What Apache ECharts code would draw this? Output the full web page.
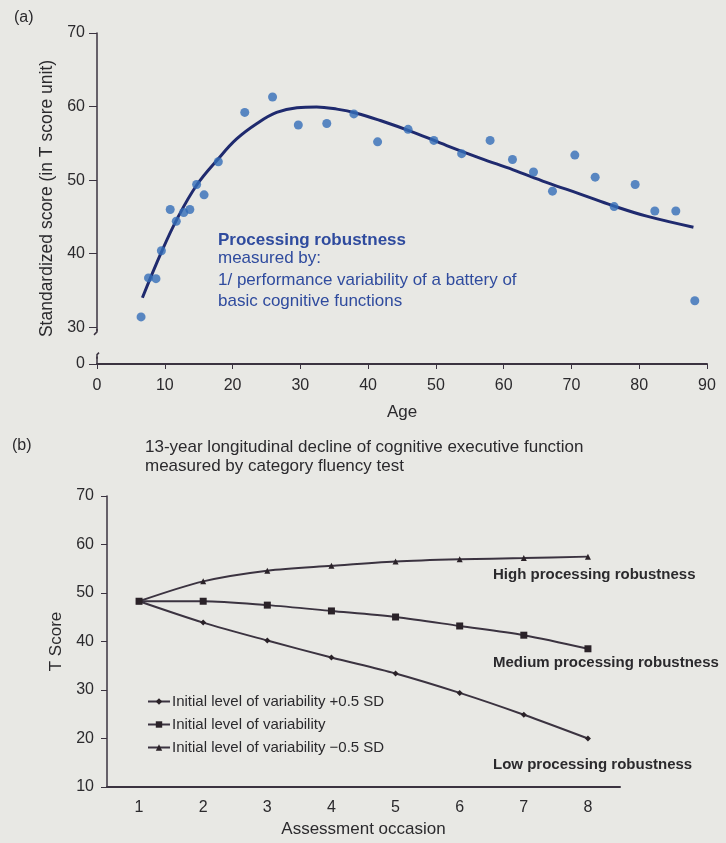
<!DOCTYPE html>
<html><head><meta charset="utf-8">
<script src="https://cdn.jsdelivr.net/npm/echarts@6/dist/echarts.min.js"></script>
<style>html,body{margin:0;padding:0;background:#e8e8e4;}#c{width:726px;height:843px;}</style>
</head><body><div id="c"></div>
<script>
// Panel (a): age vs standardized score
const ageScatter = [6.5,7.6,8.7,9.5,10.8,11.7,12.8,13.7,14.7,15.8,17.9,21.8,25.9,29.7,33.9,37.9,41.4,45.9,49.7,53.8,58.0,61.3,64.4,67.2,70.5,73.5,76.3,79.4,82.3,85.4,88.2];
const scoreScatter = [31.4,36.7,36.6,40.4,46.0,44.4,45.6,46.0,49.4,48.0,52.5,59.2,61.3,57.5,57.7,59.0,55.2,56.9,55.4,53.6,55.4,52.8,51.1,48.5,53.4,50.4,46.4,49.4,45.8,45.8,33.6];
const ageCurve = [6.7,9.5,11.8,14.7,17.9,20.6,23.6,26.5,29.5,32.4,35.4,38.3,41.8,46.7,51.6,56.5,61.4,66.3,71.3,76.2,81.1,88.0];
const scoreCurve = [34.0,40.2,44.7,49.3,52.9,55.6,57.7,59.2,59.85,59.95,59.65,59.1,58.1,56.5,54.7,53.0,51.4,49.7,48.1,46.5,45.1,43.6];
const aYTicks = [25,30,40,50,60,70]; // 25 stands for the broken-axis "0"
// Panel (b): T scores by assessment occasion
const occasions = ['1','2','3','4','5','6','7','8'];
const lowRobust = [48.3,43.9,40.2,36.7,33.4,29.4,24.9,20.0];
const medRobust = [48.3,48.3,47.5,46.3,45.05,43.2,41.3,38.5];
const highRobust = [48.3,52.4,54.6,55.6,56.5,56.95,57.2,57.5];
const legendNames = ['Initial level of variability +0.5 SD','Initial level of variability','Initial level of variability \u22120.5 SD'];

const FONT = '"Liberation Sans",Arial,sans-serif';
const TXT = '#2b2a2d';
const AX = '#3b3340';
const BLUE_TXT = '#2f4b9e';
const BG = '#e8e8e4';

const chart = echarts.init(document.getElementById('c'));
const option = {
  backgroundColor: BG,
  animation: false,
  textStyle: {fontFamily: FONT},
  grid: [
    {left: 97, right: 19, top: 33, bottom: 479},
    {left: 107, right: 106, top: 496, bottom: 56}
  ],
  xAxis: [
    {gridIndex: 0, type: 'value', min: 0, max: 90, interval: 10,
     name: 'Age', nameLocation: 'middle', nameGap: 40,
     nameTextStyle: {fontFamily: FONT, fontSize: 17, color: TXT},
     axisLine: {lineStyle: {color: AX, width: 2}},
     axisTick: {length: 5, lineStyle: {color: AX}},
     axisLabel: {fontFamily: FONT, fontSize: 16, color: TXT, margin: 14},
     splitLine: {show: false}},
    {gridIndex: 1, type: 'category', data: occasions, boundaryGap: true,
     name: 'Assessment occasion', nameLocation: 'middle', nameGap: 34,
     nameTextStyle: {fontFamily: FONT, fontSize: 17, color: TXT},
     axisLine: {lineStyle: {color: AX, width: 2}},
     axisTick: {length: 5, lineStyle: {color: AX, width: 2}},
     axisLabel: {fontFamily: FONT, fontSize: 16, color: TXT, margin: 13},
     splitLine: {show: false}}
  ],
  yAxis: [
    {gridIndex: 0, type: 'value', min: 25, max: 70, interval: 5,
     name: 'Standardized score (in T score unit)', nameLocation: 'middle', nameGap: 41,
     nameTextStyle: {fontFamily: FONT, fontSize: 17.5, color: TXT},
     axisLine: {show: true, lineStyle: {color: AX, width: 1.5}},
     axisTick: {show: true, length: 8, customValues: aYTicks, lineStyle: {color: AX}},
     axisLabel: {fontFamily: FONT, fontSize: 16, color: TXT, margin: 12, customValues: aYTicks,
       formatter: v => v === 25 ? '0' : String(v)},
     splitLine: {show: false}},
    {gridIndex: 1, type: 'value', min: 10, max: 70, interval: 10,
     name: 'T Score', nameLocation: 'middle', nameGap: 41,
     nameTextStyle: {fontFamily: FONT, fontSize: 17, color: TXT},
     axisLine: {show: true, lineStyle: {color: AX, width: 1.5}},
     axisTick: {show: true, length: 6, lineStyle: {color: AX}},
     axisLabel: {fontFamily: FONT, fontSize: 16, color: TXT, margin: 13},
     splitLine: {show: false}}
  ],
  legend: {
    left: 142, top: 689, orient: 'vertical', itemGap: 8, itemWidth: 22, itemHeight: 8,
    data: legendNames,
    textStyle: {fontFamily: FONT, fontSize: 15, color: TXT, padding: [0,0,0,-3]}
  },
  series: [
    {type: 'scatter', xAxisIndex: 0, yAxisIndex: 0, symbolSize: 9,
     itemStyle: {color: '#336db8'},
     data: ageScatter.map((a, i) => [a, scoreScatter[i]]), z: 3},
    {type: 'line', xAxisIndex: 0, yAxisIndex: 0, smooth: 0.4, showSymbol: false,
     lineStyle: {color: '#1f2a6e', width: 3},
     data: ageCurve.map((a, i) => [a, scoreCurve[i]]), z: 2},
    {name: legendNames[0], type: 'line', xAxisIndex: 1, yAxisIndex: 1, smooth: 0.3,
     symbol: 'diamond', symbolSize: 6, data: lowRobust,
     lineStyle: {color: AX, width: 2}, itemStyle: {color: '#2a2228'}},
    {name: legendNames[1], type: 'line', xAxisIndex: 1, yAxisIndex: 1, smooth: 0.3,
     symbol: 'rect', symbolSize: 7, data: medRobust,
     lineStyle: {color: AX, width: 2}, itemStyle: {color: '#2a2228'}},
    {name: legendNames[2], type: 'line', xAxisIndex: 1, yAxisIndex: 1, smooth: 0.3,
     symbol: 'triangle', symbolSize: 6, data: highRobust,
     lineStyle: {color: AX, width: 2}, itemStyle: {color: '#2a2228'}}
  ]
};
chart.setOption(option);

// text annotations and axis-break marks
const yTop = chart.convertToPixel({yAxisIndex: 0}, 29.5);
const yBot = chart.convertToPixel({yAxisIndex: 0}, 26);
const xAx = chart.convertToPixel({xAxisIndex: 0}, 0);
const t = (x, y, text, size, color, weight) => ({type: 'text', x: x, y: y,
  style: {text: text, fontFamily: FONT, fontSize: size, fill: color, fontWeight: weight || 'normal', textVerticalAlign: 'middle'}});
chart.setOption({graphic: [
  {type: 'rect', shape: {x: xAx - 4, y: yTop, width: 8, height: yBot - yTop}, style: {fill: BG}, z: 100},
  {type: 'polyline', shape: {points: [[xAx, yTop - 2], [xAx, yTop + 1], [xAx - 3, yTop + 4]]}, style: {stroke: AX, lineWidth: 1.5, fill: null}, z: 101},
  {type: 'polyline', shape: {points: [[xAx + 2, yBot - 4], [xAx, yBot - 2], [xAx, yBot + 2]]}, style: {stroke: AX, lineWidth: 1.5, fill: null}, z: 101},
  t(14, 18, '(a)', 16, TXT),
  t(12, 446, '(b)', 16, TXT),
  t(218, 240, 'Processing robustness', 17, BLUE_TXT, 'bold'),
  t(218, 258, 'measured by:', 17, BLUE_TXT),
  t(218, 280, '1/ performance variability of a battery of', 17, BLUE_TXT),
  t(218, 301, 'basic cognitive functions', 17, BLUE_TXT),
  t(145, 447, '13-year longitudinal decline of cognitive executive function', 17, TXT),
  t(145, 466, 'measured by category fluency test', 17, TXT),
  t(493, 575, 'High processing robustness', 15, TXT, 'bold'),
  t(493, 663, 'Medium processing robustness', 15, TXT, 'bold'),
  t(493, 765, 'Low processing robustness', 15, TXT, 'bold')
]});
</script></body></html>
